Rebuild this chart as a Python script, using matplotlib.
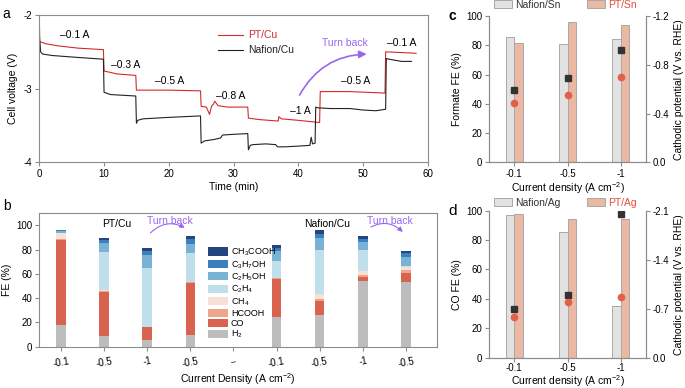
import numpy as np
import matplotlib
matplotlib.use('Agg')
import matplotlib.pyplot as plt
from matplotlib.patches import Patch, FancyArrowPatch
from matplotlib.lines import Line2D

plt.rcParams['font.family'] = ['Liberation Sans', 'DejaVu Sans']
plt.rcParams['mathtext.fontset'] = 'custom'
plt.rcParams['mathtext.rm'] = 'Liberation Sans'
plt.rcParams['mathtext.it'] = 'Liberation Sans:italic'
plt.rcParams['axes.unicode_minus'] = False
plt.rcParams['font.size'] = 7

# ---- panel a: cell voltage vs time
red_t = [0, 1, 3, 6, 9.9, 10.0, 12, 14.9, 15.0, 20, 24.9, 25.0, 25.8, 26.3, 26.6, 26.9, 27.1,
         27.6, 29, 32.2, 32.3, 34, 36.9, 37.0, 37.4, 40, 43.3, 43.4, 48, 53.4, 53.5, 56, 58.2]
red_v = [-2.36, -2.39, -2.42, -2.45, -2.47, -2.76, -2.80, -2.82, -3.02, -3.02, -3.03, -3.24,
         -3.25, -3.35, -3.24, -3.21, -3.17, -3.23, -3.25, -3.25, -3.40, -3.42, -3.44, -3.38,
         -3.41, -3.43, -3.46, -3.04, -3.04, -3.06, -2.50, -2.51, -2.52]
blk_t = [0, 0.05, 0.2, 0.5, 2, 5, 9.9, 10.0, 11, 14.9, 15.0, 15.2, 16, 20, 24.9, 25.0, 25.5,
         27, 28, 28.3, 30, 32.2, 32.3, 32.6, 33, 35, 36.5, 36.8, 38, 40, 41.8, 42.0, 42.2,
         42.6, 42.7, 43, 45, 48, 50, 52, 53.5, 53.6, 54, 56, 57.5]
blk_v = [-2.05, -2.30, -2.50, -2.53, -2.55, -2.57, -2.60, -3.05, -3.08, -3.10, -3.47, -3.43,
         -3.41, -3.39, -3.37, -3.74, -3.71, -3.69, -3.67, -3.63, -3.62, -3.61, -3.83, -3.77,
         -3.76, -3.75, -3.76, -3.79, -3.79, -3.78, -3.77, -3.66, -3.75, -3.74, -3.25, -3.26,
         -3.27, -3.27, -3.29, -3.30, -3.28, -2.59, -2.60, -2.63, -2.63]
step_labels = ['\u20130.1 A', '\u20130.3 A', '\u20130.5 A', '\u20130.8 A', '\u20131 A', '\u20130.5 A', '\u20130.1 A']
step_pos = [(5.5, -2.27), (13.4, -2.68), (20.2, -2.90), (29.5, -3.10), (40.3, -3.30), (48.8, -2.90), (56.0, -2.38)]

# ---- panel b: product FE stacks
b_ticks = ['-0.1', '-0.5', '-1', '-0.5', '--', '-0.1', '-0.5', '-1', '-0.5']
products = ['H$_2$', 'CO', 'HCOOH', 'CH$_4$', 'C$_2$H$_4$', 'C$_2$H$_5$OH', 'C$_3$H$_7$OH', 'CH$_3$COOH']
h2 = [17.5, 8.9, 5.3, 9.4, 0, 24.1, 25.8, 54.3, 53.5]
co = [70.5, 36.3, 11.0, 43.5, 0, 32.1, 11.6, 3.0, 7.2]
hcooh = [0.5, 1.1, 0.2, 0.4, 0, 0.5, 2.2, 1.7, 2.5]
ch4 = [5.0, 0.2, 0.0, 0.0, 0, 0.3, 4.2, 3.3, 2.5]
c2h4 = [0.3, 31.3, 48.0, 23.7, 0, 13.4, 36.0, 17.5, 0.8]
c2h5oh = [1.5, 7.8, 11.1, 8.0, 0, 8.3, 9.4, 6.1, 7.7]
c3h7oh = [0.8, 2.2, 3.4, 3.4, 0, 2.5, 3.6, 2.5, 2.8]
ch3cooh = [0.3, 1.7, 2.4, 2.5, 0, 3.0, 3.3, 2.5, 2.0]
prod_colors = ['#bdbdbd', '#d9634f', '#eda68a', '#f7e1d7', '#bfe0ea', '#78b3d6', '#3c7fbd', '#23467f']

# ---- panels c, d
cd_ticks = ['-0.1', '-0.5', '-1']
sn_nafion_fe = [85.7, 81.0, 84.5]
sn_pt_fe = [81.5, 96.1, 93.5]
sn_nafion_pot = [-0.59, -0.69, -0.92]
sn_pt_pot = [-0.49, -0.55, -0.70]
ag_nafion_fe = [97.3, 85.5, 34.9]
ag_pt_fe = [97.5, 94.1, 94.1]
ag_nafion_pot = [-0.69, -0.90, -2.05]
ag_pt_pot = [-0.58, -0.80, -0.86]

RED = '#d42a2a'
PURPLE = '#9a66ee'
SPINE = '#8c8c8c'
GRAY_BAR = '#e2e2e2'
SALMON_BAR = '#eab8a3'
ORANGE_TXT = '#e0503c'


def style_spines(ax, sides=('left', 'bottom', 'right', 'top')):
    for s in ax.spines:
        if s in sides:
            ax.spines[s].set_color(SPINE)
            ax.spines[s].set_linewidth(0.8)
        else:
            ax.spines[s].set_visible(False)
    ax.tick_params(direction='out', length=3, width=0.8, color=SPINE, labelsize=7, pad=2)


fig = plt.figure(figsize=(6.85, 3.88), dpi=100)

# ---------------- a
axa = fig.add_axes([0.0574, 0.5817, 0.567, 0.3796])
axa.plot(red_t, red_v, color=RED, lw=0.8)
axa.plot(blk_t, blk_v, color='#222222', lw=0.8)
axa.set_xlim(0, 60)
axa.set_ylim(-4, -2)
axa.set_xticks(range(0, 61, 10))
axa.set_yticks([-4, -3, -2])
axa.set_xlabel('Time (min)', fontsize=7.5, labelpad=2)
axa.set_ylabel('Cell voltage (V)', fontsize=7.5, labelpad=4)
style_spines(axa)
for lab, (tx, ty) in zip(step_labels, step_pos):
    axa.text(tx, ty, lab, fontsize=7.5, ha='center', va='center')
axa.text(47.2, -2.38, 'Turn back', color=PURPLE, fontsize=7.5, ha='center', va='center')
axa.add_patch(FancyArrowPatch((40, -3.12), (51, -2.53), connectionstyle='arc3,rad=-0.3',
                              arrowstyle='-|>', mutation_scale=11, lw=1.2, color=PURPLE))
leg_a = axa.legend([Line2D([], [], color=RED, lw=0.8), Line2D([], [], color='#222222', lw=0.8)],
                   ['PT/Cu', 'Nafion/Cu'], loc='upper left', bbox_to_anchor=(0.435, 0.96),
                   frameon=False, fontsize=7.5, handlelength=2.4, handletextpad=0.5, labelspacing=0.5)
leg_a.get_texts()[0].set_color(RED)
leg_a.get_texts()[1].set_color('#222222')
fig.text(0.004, 0.965, 'a', fontsize=10, va='center')

# ---------------- b
axb = fig.add_axes([0.0574, 0.1064, 0.5806, 0.344])
xb = np.arange(len(b_ticks))
bottom = np.zeros(len(xb))
handles = []
for vals, col in zip([h2, co, hcooh, ch4, c2h4, c2h5oh, c3h7oh, ch3cooh], prod_colors):
    axb.bar(xb, vals, width=0.22, bottom=bottom, color=col, edgecolor='none')
    bottom += np.array(vals)
    handles.append(Patch(facecolor=col, edgecolor='none'))
axb.set_xlim(-0.5, 8.72)
axb.set_ylim(0, 110)
axb.set_yticks(range(0, 101, 20))
axb.set_xticks(xb)
axb.set_xticklabels(b_ticks, rotation=10, ha='center')
axb.set_xlabel('Current Density (A cm$^{-2}$)', fontsize=7.5, labelpad=2)
axb.set_ylabel('FE (%)', fontsize=7.5, labelpad=3)
style_spines(axb)
axb.tick_params(axis='x', pad=3.5)
leg_b = axb.legend(handles[::-1], products[::-1], loc='upper left', bbox_to_anchor=(0.425, 0.75),
                   frameon=False, fontsize=6.5, handlelength=2.2, handleheight=1.0,
                   handletextpad=0.3, labelspacing=0.1, borderaxespad=0, borderpad=0)
axb.text(1.29, 101, 'PT/Cu', fontsize=7.5, ha='center', va='center')
axb.text(6.18, 101, 'Nafion/Cu', fontsize=7.5, ha='center', va='center')
axb.text(2.53, 103.5, 'Turn back', color=PURPLE, fontsize=7.5, ha='center', va='center')
axb.text(7.63, 103.5, 'Turn back', color=PURPLE, fontsize=7.5, ha='center', va='center')
axb.add_patch(FancyArrowPatch((2.03, 92.1), (2.93, 97.0), connectionstyle='arc3,rad=-0.4',
                              arrowstyle='-|>', mutation_scale=7, lw=0.8, color=PURPLE))
axb.add_patch(FancyArrowPatch((7.13, 97.6), (7.97, 92.9), connectionstyle='arc3,rad=-0.4',
                              arrowstyle='-|>', mutation_scale=7, lw=0.8, color=PURPLE))
fig.text(0.004, 0.47, 'b', fontsize=10, va='center')


# ---------------- c, d
def fe_panel(rect, naf_fe, pt_fe, naf_pot, pt_pot, ylabel, pot_max, pot_ticks, names, lpos, xpad, tpad):
    ax = fig.add_axes(rect)
    x = np.arange(len(cd_ticks))
    w = 0.16
    ax.bar(x - w / 2, naf_fe, width=w, color=GRAY_BAR, edgecolor='#a8a8a8', lw=0.7)
    ax.bar(x + w / 2, pt_fe, width=w, color=SALMON_BAR, edgecolor='#a8a8a8', lw=0.7)
    ax.set_xlim(-0.47, 2.47)
    ax.set_ylim(0, 100)
    ax.set_yticks(range(0, 101, 20))
    ax.set_xticks(x)
    ax.set_xticklabels(cd_ticks)
    ax.set_ylabel(ylabel, fontsize=7.5, labelpad=3)
    ax.set_xlabel('Current density (A cm$^{-2}$)', fontsize=7.5, labelpad=xpad)
    style_spines(ax, ('left', 'bottom', 'right'))
    ax.tick_params(axis='x', pad=tpad)
    ax2 = ax.twinx()
    ax2.plot(x, naf_pot, 's', color='#333333', ms=4.5, ls='none')
    ax2.plot(x, pt_pot, 'o', color='#e0604a', ms=4.5, ls='none')
    ax2.set_ylim(0, pot_max)
    ax2.set_yticks(pot_ticks)
    ax2.set_yticklabels(['%.1f' % t for t in pot_ticks])
    ax2.set_ylabel('Cathodic potential (V vs. RHE)', fontsize=7.5, labelpad=3)
    style_spines(ax2, ('left', 'bottom', 'right'))
    leg = ax.legend([Patch(facecolor=GRAY_BAR, edgecolor='#a8a8a8', lw=0.7),
                     Patch(facecolor=SALMON_BAR, edgecolor='#a8a8a8', lw=0.7)],
                    names, ncol=2, loc='center left', bbox_to_anchor=(0.03, lpos),
                    frameon=False, fontsize=7.5, handlelength=1.7, handleheight=0.8,
                    handletextpad=0.3, columnspacing=2.6, borderaxespad=0, borderpad=0)
    leg.get_texts()[0].set_color('#333333')
    leg.get_texts()[1].set_color(ORANGE_TXT)
    return ax


fe_panel([0.7143, 0.5817, 0.2288, 0.3771], sn_nafion_fe, sn_pt_fe, sn_nafion_pot, sn_pt_pot,
         'Formate FE (%)', -1.2, [0.0, -0.4, -0.8, -1.2], ['Nafion/Sn', 'PT/Sn'], 1.075, 1, 2)
fe_panel([0.7143, 0.0781, 0.2288, 0.3789], ag_nafion_fe, ag_pt_fe, ag_nafion_pot, ag_pt_pot,
         'CO FE (%)', -2.1, [0.0, -0.7, -1.4, -2.1], ['Nafion/Ag', 'PT/Ag'], 1.052, 0, 1)
fig.text(0.66, 0.96, 'c', fontsize=10, fontweight='bold', ha='center', va='center')
fig.text(0.661, 0.457, 'd', fontsize=11, ha='center', va='center')

fig.savefig('out.png', dpi=100)
